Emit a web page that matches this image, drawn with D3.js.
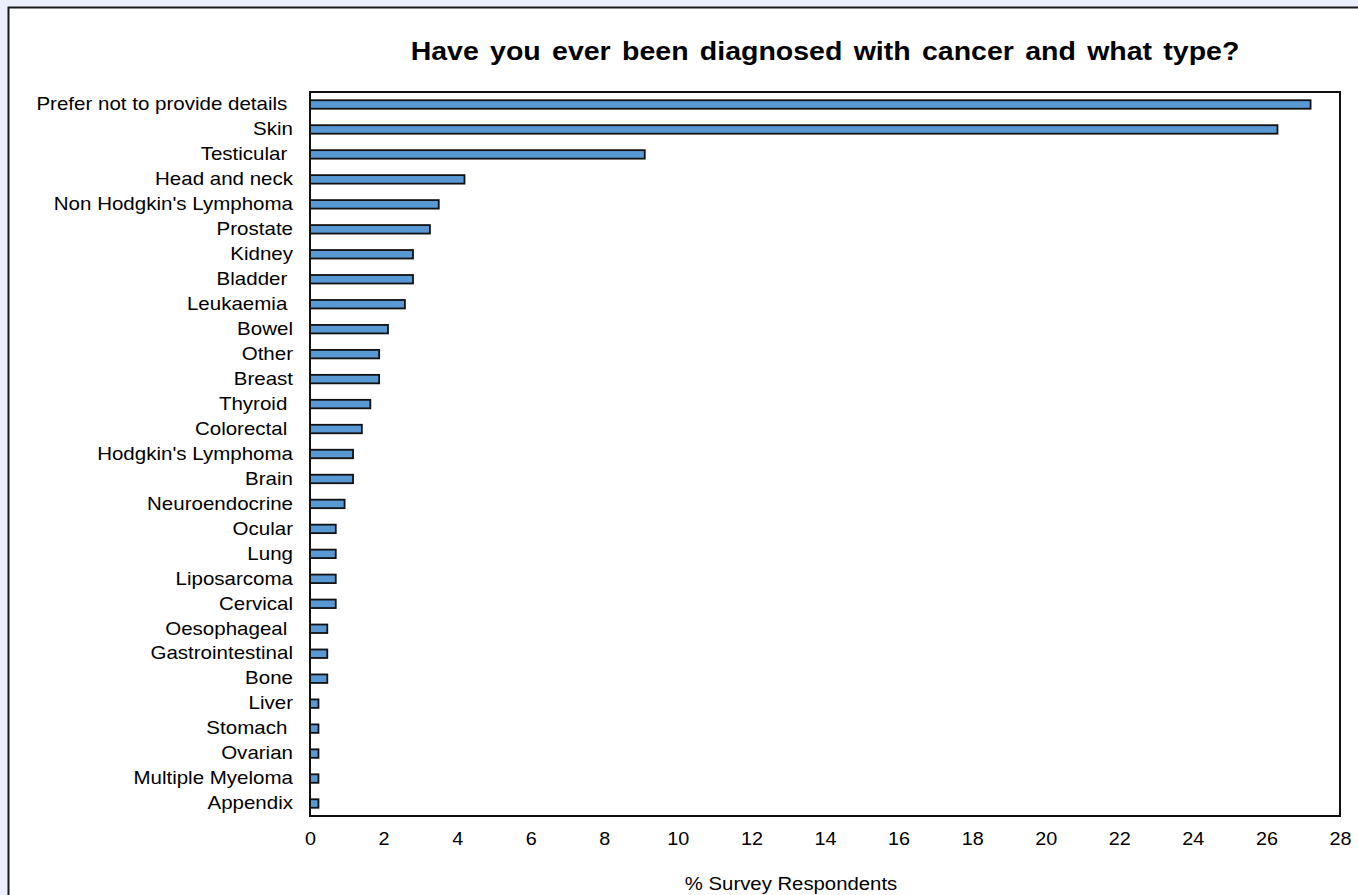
<!DOCTYPE html>
<html><head><meta charset="utf-8">
<script src="https://cdn.jsdelivr.net/npm/d3@7"></script>
<style>
html,body{margin:0;padding:0;background:#ebeefb;}
svg{display:block;}
text{font-family:"Liberation Sans",Arial,sans-serif;fill:#000;white-space:pre;}
</style></head>
<body>
<svg id="chart" width="1358" height="895"></svg>
<script>
const categories = ["Prefer not to provide details ","Skin","Testicular ","Head and neck","Non Hodgkin's Lymphoma","Prostate","Kidney","Bladder ","Leukaemia ","Bowel","Other","Breast","Thyroid ","Colorectal ","Hodgkin's Lymphoma","Brain","Neuroendocrine","Ocular","Lung","Liposarcoma","Cervical","Oesophageal ","Gastrointestinal","Bone","Liver","Stomach ","Ovarian","Multiple Myeloma","Appendix"];
const values = [27.2,26.3,9.1,4.2,3.5,3.26,2.8,2.8,2.58,2.12,1.88,1.88,1.64,1.41,1.17,1.17,0.94,0.7,0.7,0.7,0.7,0.47,0.47,0.47,0.23,0.23,0.23,0.23,0.23];
const xTicks = [0,2,4,6,8,10,12,14,16,18,20,22,24,26,28];
const title = "Have you ever been diagnosed with cancer and what type?";
const xTitle = "% Survey Respondents";

const svg = d3.select("#chart");
svg.append("rect").attr("x",8.5).attr("y",7.5).attr("width",1400).attr("height",1000)
  .attr("fill","#fff").attr("stroke","#1a1a1a").attr("stroke-width",2);

const m = {left:310, right:1340, top:92, bottom:816};
const x = d3.scaleLinear().domain([0,28]).range([m.left,m.right]);
const y = d3.scaleBand().domain(categories).range([m.top,m.bottom]).paddingInner(0.66).paddingOuter(0.33);

svg.append("g").selectAll("rect").data(values).join("rect")
  .attr("x",x(0)).attr("y",(d,i)=>y(categories[i]))
  .attr("width",d=>x(d)-x(0)).attr("height",y.bandwidth())
  .attr("fill","#5899d4").attr("stroke","#111").attr("stroke-width",1.8);

svg.append("rect").attr("x",m.left).attr("y",m.top).attr("width",m.right-m.left).attr("height",m.bottom-m.top)
  .attr("fill","none").attr("stroke","#111").attr("stroke-width",2);

const sY = 1.14, sX = 1.1;
const yAxis = svg.append("g").attr("transform",`translate(${m.left},0)`)
  .call(d3.axisLeft(y).tickSize(0).tickPadding(17));
yAxis.select(".domain").remove();
yAxis.selectAll("text").style("font-size","18px").attr("fill","#000").attr("font-family",null)
  .attr("x",-17/sY).attr("transform",`scale(${sY},1)`);

const xAxis = svg.append("g").attr("transform",`translate(0,${m.bottom})`)
  .call(d3.axisBottom(x).tickValues(xTicks).tickSize(0).tickPadding(16).tickFormat(d3.format("d")));
xAxis.select(".domain").remove();
xAxis.selectAll("text").style("font-size","18px").attr("fill","#000").attr("font-family",null)
  .attr("transform",`scale(${sX},1)`);

svg.append("text").attr("transform",`translate(${(m.left+m.right)/2},60) scale(1.14,1)`)
  .attr("text-anchor","middle").style("word-spacing","3px")
  .style("font-size","25px").style("font-weight","bold").text(title);
svg.append("text").attr("transform",`translate(791,890) scale(1.13,1)`).attr("text-anchor","middle")
  .style("font-size","18px").text(xTitle);
</script>
</body></html>
